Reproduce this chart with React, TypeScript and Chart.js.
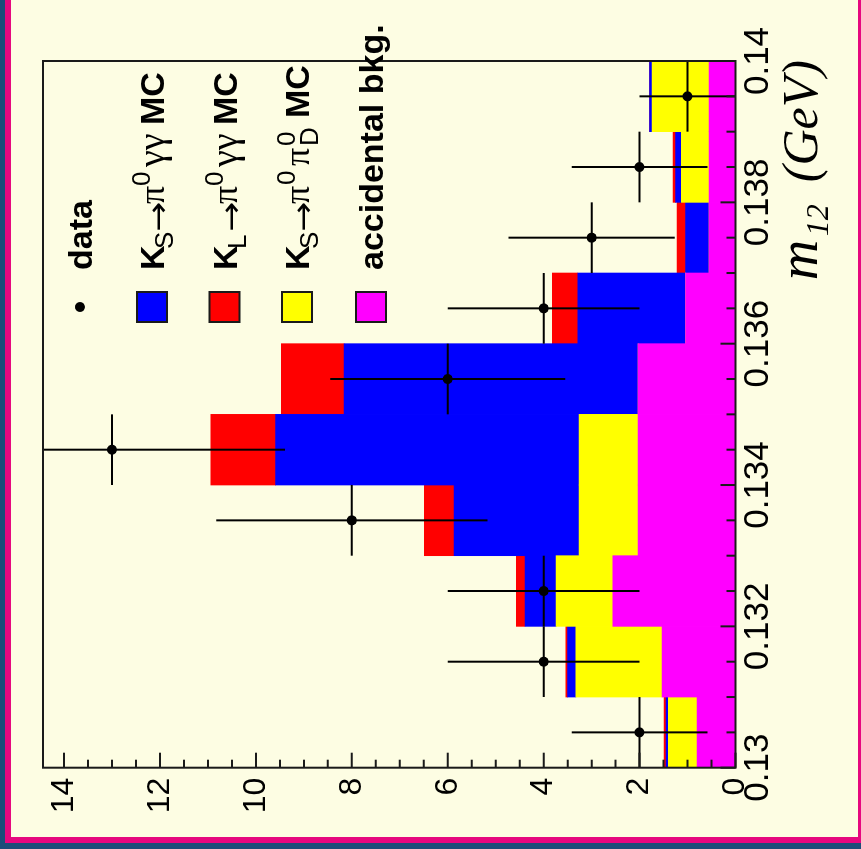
import React, { useEffect, useRef } from "react";
import { Chart, registerables } from "chart.js";

Chart.register(...registerables);

// m12 bin centres (GeV), bin width 0.001
const binCenters = [0.1305, 0.1315, 0.1325, 0.1335, 0.1345, 0.1355, 0.1365, 0.1375, 0.1385, 0.1395];
const binWidth = 0.001;

// data counts
const dataCounts = [2, 4, 4, 8, 13, 6, 4, 3, 2, 1];

// stacked MC components (bottom to top)
const accidentalBkg = [0.8, 1.53, 2.56, 2.03, 2.03, 2.03, 1.04, 0.55, 0.55, 0.55];
const ksPi0Pi0D = [0.6, 1.8, 1.18, 1.23, 1.23, 0, 0, 0, 0.58, 1.19];
const ksPi0gg = [0.05, 0.17, 0.65, 2.61, 6.33, 6.13, 2.25, 0.49, 0.12, 0.05];
const klPi0gg = [0.04, 0.04, 0.18, 0.62, 1.35, 1.31, 0.53, 0.18, 0.05, 0.0];

// axis ranges / ticks
const xMin = 0.13;
const xMax = 0.14;
const xMajorStep = 0.002;
const xMinorStep = 0.0005;
const yMin = 0;
const yMax = 14.44;
const yMajorStep = 2;
const yMinorStep = 0.5;

const SANS = '"Liberation Sans", Arial, Helvetica, sans-serif';
const SERIF = '"Liberation Serif", "Times New Roman", serif';
const ARROW = '"DejaVu Sans", sans-serif';

// t: text, f: font, dy: baseline shift, w: advance override, sx: horizontal stretch, keep: don't advance (stack with next)
type Seg = { t: string; f: string; dy?: number; w?: number; sx?: number; keep?: boolean };

function segAdvance(ctx: CanvasRenderingContext2D, s: Seg) {
  ctx.font = s.f;
  const m = ctx.measureText(s.t).width * (s.sx || 1);
  return s.w !== undefined ? s.w : m;
}

function richWidth(ctx: CanvasRenderingContext2D, segs: Seg[]) {
  let w = 0;
  let held = 0;
  for (const s of segs) {
    const a = segAdvance(ctx, s);
    if (s.keep) {
      held = Math.max(held, a);
      continue;
    }
    w += Math.max(a, held);
    held = 0;
  }
  return w;
}

function drawRich(ctx: CanvasRenderingContext2D, segs: Seg[], x0: number, base: number) {
  let x = x0;
  let held = 0;
  ctx.textAlign = "left";
  ctx.textBaseline = "alphabetic";
  for (const s of segs) {
    ctx.font = s.f;
    const y = base + (s.dy || 0);
    if (s.sx && s.sx !== 1) {
      ctx.save();
      ctx.translate(x, y);
      ctx.scale(s.sx, 1);
      ctx.fillText(s.t, 0, 0);
      ctx.restore();
    } else {
      ctx.fillText(s.t, x, y);
    }
    const a = segAdvance(ctx, s);
    if (s.keep) {
      held = Math.max(held, a);
      continue;
    }
    x += Math.max(a, held);
    held = 0;
  }
}

const B34 = `bold 34px ${SANS}`;
const SUB = `26px ${SANS}`;
const PI = `36px ${SERIF}`;
const GAM = `38px ${SERIF}`;
const ARR = `30px ${ARROW}`;

const kHead = (sub: string): Seg[] => [
  { t: "K", f: B34, w: 21 },
  { t: sub, f: SUB, dy: 9, w: 17 },
  { t: "→", f: ARR, dy: 4, sx: 1.2, w: 28 },
];

const legendRows: { marker: "dot" | "box"; color: string; segs: Seg[] }[] = [
  { marker: "dot", color: "#000", segs: [{ t: "data", f: B34 }] },
  {
    marker: "box",
    color: "#0000ff",
    segs: [
      ...kHead("S"),
      { t: "π", f: PI, w: 18 },
      { t: "0", f: SUB, dy: -14, w: 19 },
      { t: "γγ", f: GAM, w: 42 },
      { t: "MC", f: B34 },
    ],
  },
  {
    marker: "box",
    color: "#ff0000",
    segs: [
      ...kHead("L"),
      { t: "π", f: PI, w: 18 },
      { t: "0", f: SUB, dy: -14, w: 19 },
      { t: "γγ", f: GAM, w: 42 },
      { t: "MC", f: B34 },
    ],
  },
  {
    marker: "box",
    color: "#ffff00",
    segs: [
      ...kHead("S"),
      { t: "π", f: PI, w: 19 },
      { t: "0", f: SUB, dy: -14, w: 19 },
      { t: "π", f: PI, w: 20 },
      { t: "0", f: SUB, dy: -14, keep: true, w: 22 },
      { t: "D", f: SUB, dy: 9, w: 28 },
      { t: "MC", f: B34 },
    ],
  },
  { marker: "box", color: "#ff00ff", segs: [{ t: "accidental bkg.", f: B34 }] },
];

const titleSegs: Seg[] = [
  { t: "m", f: `italic 56px ${SERIF}`, w: 44 },
  { t: "12", f: `italic 32px ${SERIF}`, dy: 11, w: 54 },
  { t: "(GeV)", f: `italic 50px ${SERIF}` },
];

const decorPlugin = {
  id: "decor",
  afterDatasetsDraw(chart: any) {
    const { ctx, chartArea: ca } = chart;
    const x = chart.scales.x;
    const y = chart.scales.y;

    // error bars
    ctx.save();
    ctx.beginPath();
    ctx.rect(ca.left, ca.top, ca.right - ca.left, ca.bottom - ca.top);
    ctx.clip();
    ctx.strokeStyle = "#000";
    ctx.lineWidth = 2;
    dataCounts.forEach((n, i) => {
      const c = binCenters[i];
      const e = Math.sqrt(n);
      const px = x.getPixelForValue(c);
      const py = y.getPixelForValue(n);
      ctx.beginPath();
      ctx.moveTo(x.getPixelForValue(c - binWidth / 2), py);
      ctx.lineTo(x.getPixelForValue(c + binWidth / 2), py);
      ctx.moveTo(px, y.getPixelForValue(n - e));
      ctx.lineTo(px, y.getPixelForValue(n + e));
      ctx.stroke();
    });
    ctx.restore();

    // frame
    ctx.save();
    ctx.strokeStyle = "#1a1a1a";
    ctx.lineWidth = 2;
    ctx.strokeRect(ca.left, ca.top, ca.right - ca.left, ca.bottom - ca.top);

    // inward ticks
    ctx.beginPath();
    for (let k = 0; ; k++) {
      const v = xMin + k * xMinorStep;
      if (v > xMax + 1e-9) break;
      const major = k % Math.round(xMajorStep / xMinorStep) === 0;
      const p = x.getPixelForValue(v);
      ctx.moveTo(p, ca.bottom);
      ctx.lineTo(p, ca.bottom - (major ? 15 : 9));
    }
    for (let k = 0; ; k++) {
      const v = yMin + k * yMinorStep;
      if (v > yMax + 1e-9) break;
      const major = k % Math.round(yMajorStep / yMinorStep) === 0;
      const p = y.getPixelForValue(v);
      ctx.moveTo(ca.left, p);
      ctx.lineTo(ca.left + (major ? 15 : 8), p);
    }
    ctx.stroke();
    ctx.restore();

    // legend
    ctx.save();
    ctx.fillStyle = "#000";
    const rowY = [69, 141, 213.5, 286, 360];
    const markerX = 530;
    const textX = 567;
    legendRows.forEach((r, i) => {
      const cy = rowY[i];
      if (r.marker === "dot") {
        ctx.fillStyle = "#000";
        ctx.beginPath();
        ctx.arc(markerX, cy, 5, 0, Math.PI * 2);
        ctx.fill();
      } else {
        ctx.fillStyle = r.color;
        ctx.fillRect(markerX - 15, cy - 15, 30, 30);
        ctx.strokeStyle = "#1a1a1a";
        ctx.lineWidth = 2;
        ctx.strokeRect(markerX - 15, cy - 15, 30, 30);
      }
      ctx.fillStyle = "#000";
      drawRich(ctx, r.segs, textX, cy + 12);
    });

    // axis title (right aligned)
    const tw = richWidth(ctx, titleSegs);
    drawRich(ctx, titleSegs, ca.right + 1 - tw, 806);
    ctx.restore();
  },
};

export default function App() {
  const ref = useRef<HTMLCanvasElement | null>(null);

  useEffect(() => {
    if (!ref.current) return;
    const pts = (vals: number[]) => binCenters.map((c, i) => ({ x: c, y: vals[i] }));
    const barCommon = {
      type: "bar" as const,
      borderWidth: 0,
      barPercentage: 1,
      categoryPercentage: 1,
    };
    const chart = new Chart(ref.current, {
      type: "bar",
      data: {
        datasets: [
          {
            type: "line",
            label: "data",
            data: pts(dataCounts),
            showLine: false,
            pointRadius: 5,
            pointHoverRadius: 5,
            pointBackgroundColor: "#000",
            pointBorderWidth: 0,
            pointStyle: "circle",
          } as any,
          { ...barCommon, label: "accidental bkg.", data: pts(accidentalBkg), backgroundColor: "#ff00ff" },
          { ...barCommon, label: "KS→π0π0D MC", data: pts(ksPi0Pi0D), backgroundColor: "#ffff00" },
          { ...barCommon, label: "KS→π0γγ MC", data: pts(ksPi0gg), backgroundColor: "#0000ff" },
          { ...barCommon, label: "KL→π0γγ MC", data: pts(klPi0gg), backgroundColor: "#ff0000" },
        ],
      },
      options: {
        responsive: false,
        animation: false,
        devicePixelRatio: 1,
        events: [],
        layout: { padding: { left: 0, right: 61, top: 32, bottom: 0 } },
        plugins: { legend: { display: false }, tooltip: { enabled: false }, title: { display: false } },
        scales: {
          x: {
            type: "linear",
            min: xMin,
            max: xMax,
            offset: false,
            stacked: true,
            grid: { display: false, drawTicks: false, offset: false },
            border: { display: false },
            ticks: {
              stepSize: xMajorStep,
              autoSkip: false,
              maxRotation: 0,
              minRotation: 0,
              padding: 2,
              color: "#000",
              font: { family: SANS, size: 35 },
              callback: (v: any) => String(Number(Number(v).toFixed(3))),
            },
            afterFit: (s: any) => {
              s.height = 122.5;
            },
          },
          y: {
            type: "linear",
            min: yMin,
            max: yMax,
            stacked: true,
            grid: { display: false, drawTicks: false },
            border: { display: false },
            ticks: {
              stepSize: yMajorStep,
              includeBounds: false,
              padding: 10,
              color: "#000",
              font: { family: SANS, size: 32 },
            },
            afterFit: (s: any) => {
              s.width = 69.3;
            },
          },
        },
      } as any,
      plugins: [decorPlugin],
    });
    return () => chart.destroy();
  }, []);

  return (
    <div
      style={{
        position: "fixed",
        left: 0,
        top: 0,
        width: 861,
        height: 849,
        background: "#1b4d79",
        overflow: "hidden",
      }}
    >
      <div style={{ position: "absolute", left: 5, top: 0, width: 856, height: 843, background: "#e6087f" }} />
      <div
        style={{
          position: "absolute",
          left: 11,
          top: 0,
          width: 847,
          height: 837,
          background: "#fdfde3",
          overflow: "hidden",
        }}
      >
        <canvas
          ref={ref}
          width={837}
          height={847}
          style={{
            position: "absolute",
            left: 0,
            top: 0,
            width: 837,
            height: 847,
            transformOrigin: "0 0",
            transform: "translate(0px, 837px) rotate(-90deg)",
          }}
        />
      </div>
    </div>
  );
}
